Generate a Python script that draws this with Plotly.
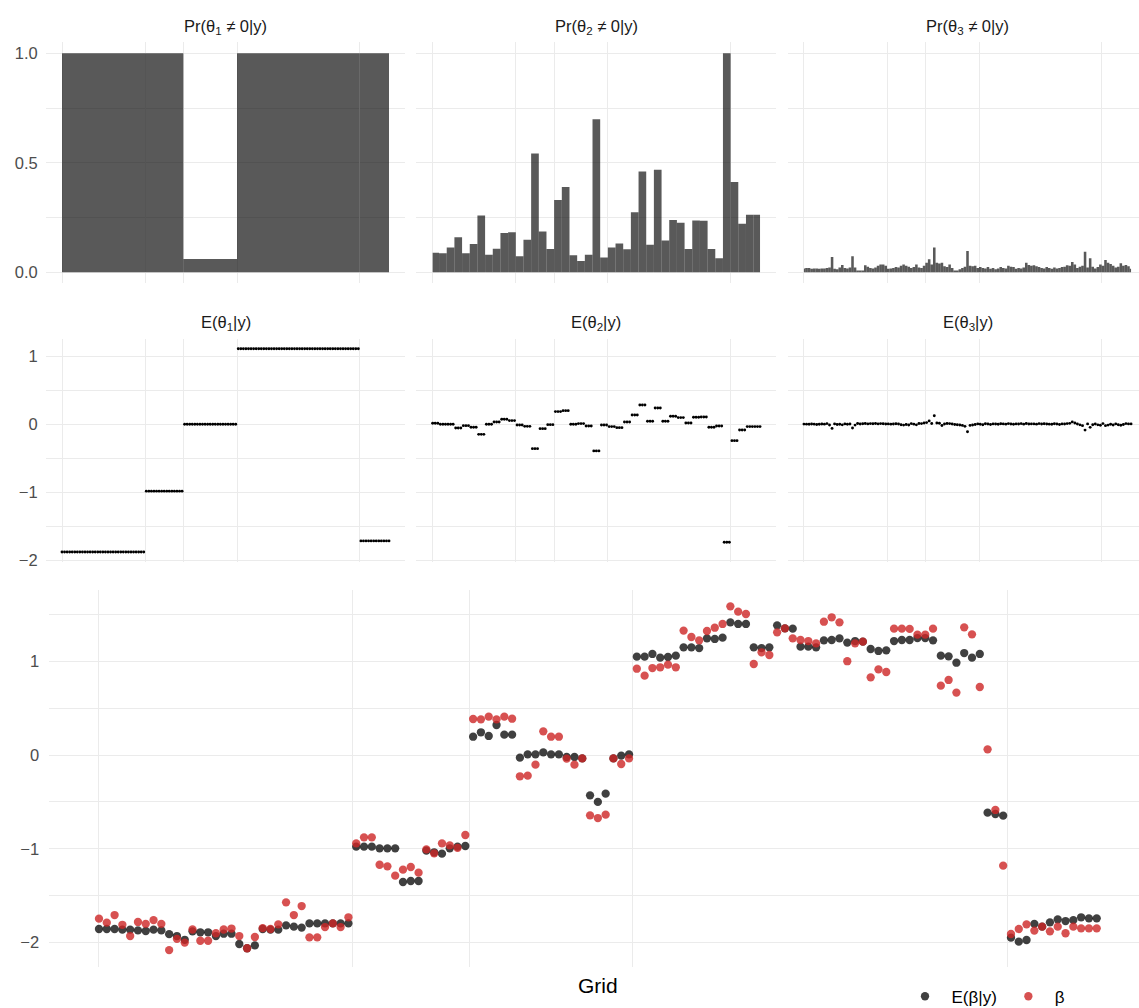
import numpy as np
import plotly.graph_objects as go

W, H = 1139, 1008
FONT = "Liberation Sans, Arial, Helvetica, sans-serif"
GRID = "#EBEBEB"

# ---------------- data ----------------
# level 1 segments (number of grid points in each)
theta1_seg_len = [33, 15, 21, 48, 12]
theta1_prob = [1.0, 1.0, 0.061, 1.0, 1.0]
theta1_mean = [-1.873, -0.98, 0.0, 1.108, -1.71]

# level 2 segments (43 segments of 3 grid points)
theta2_seg_len = [3] * 43
theta2_prob = [0.09, 0.087, 0.114, 0.16, 0.087, 0.13, 0.26, 0.08, 0.108, 0.18, 0.183,
               0.073, 0.149, 0.543, 0.186, 0.107, 0.33, 0.39, 0.078, 0.052, 0.08, 0.699,
               0.068, 0.113, 0.132, 0.105, 0.275, 0.46, 0.126, 0.469, 0.146, 0.239, 0.227,
               0.107, 0.237, 0.236, 0.107, 0.064, 1.0, 0.412, 0.222, 0.263, 0.263]
theta2_mean = [0.015, 0.0, 0.0, -0.054, -0.02, -0.044, -0.147, 0.0, 0.034, 0.073, 0.054,
               -0.01, -0.03, -0.357, -0.064, -0.005, 0.186, 0.2, 0.0, 0.01, -0.024, -0.39,
               -0.01, -0.034, -0.049, 0.034, 0.137, 0.283, 0.044, 0.24, 0.044, 0.117, 0.098,
               0.02, 0.103, 0.107, -0.044, -0.024, -1.73, -0.24, -0.083, -0.034, -0.034]

# level 3 (one per grid point, 129 points)
theta3_prob = [0.018, 0.02, 0.02, 0.016, 0.018, 0.018, 0.016, 0.018, 0.018, 0.02, 0.022,
               0.07, 0.016, 0.014, 0.022, 0.034, 0.02, 0.018, 0.022, 0.073, 0.022, 0.008,
               0.008, 0.008, 0.032, 0.026, 0.02, 0.018, 0.022, 0.03, 0.036, 0.036, 0.03,
               0.016, 0.018, 0.02, 0.024, 0.022, 0.03, 0.036, 0.03, 0.026, 0.02, 0.024,
               0.036, 0.022, 0.02, 0.03, 0.044, 0.06, 0.036, 0.114, 0.044, 0.04, 0.044,
               0.028, 0.024, 0.036, 0.02, 0.008, 0.008, 0.014, 0.02, 0.026, 0.097, 0.03,
               0.028, 0.03, 0.02, 0.024, 0.02, 0.018, 0.024, 0.016, 0.02, 0.014, 0.018,
               0.024, 0.02, 0.018, 0.03, 0.026, 0.024, 0.016, 0.02, 0.018, 0.022, 0.044,
               0.034, 0.03, 0.032, 0.028, 0.024, 0.02, 0.018, 0.024, 0.02, 0.016, 0.022,
               0.018, 0.02, 0.024, 0.026, 0.032, 0.03, 0.047, 0.036, 0.02, 0.026, 0.03,
               0.094, 0.022, 0.064, 0.026, 0.018, 0.024, 0.036, 0.03, 0.056, 0.044, 0.038,
               0.03, 0.022, 0.026, 0.041, 0.03, 0.034, 0.028, 0.016]
theta3_mean = [0.003, 0.002, 0.0, 0.004, 0.002, -0.004, 0.0, 0.005, 0.002, 0.01, -0.01,
               -0.06, 0.006, -0.004, 0.0, -0.008, 0.006, 0.0, 0.004, -0.055, -0.012, 0.012,
               0.004, 0.008, 0.012, 0.006, 0.01, 0.008, 0.012, 0.006, 0.01, 0.008, 0.004,
               0.006, 0.002, 0.004, 0.008, 0.004, -0.006, -0.012, -0.004, -0.01, 0.01, 0.002,
               -0.008, 0.012, 0.01, 0.018, 0.025, 0.05, 0.012, 0.125, 0.018, 0.016, -0.018,
               0.004, 0.012, 0.01, 0.004, -0.004, -0.006, -0.01, -0.016, -0.03, -0.11, -0.016,
               -0.01, -0.002, 0.006, 0.0, -0.006, 0.008, 0.004, -0.004, 0.006, 0.004, 0.0,
               0.008, 0.006, 0.002, 0.01, 0.004, 0.0, 0.006, 0.004, 0.01, 0.002, 0.012,
               0.004, 0.006, 0.006, 0.002, 0.01, 0.004, 0.008, 0.004, 0.002, 0.0, 0.008,
               0.004, -0.004, 0.006, 0.004, 0.01, 0.014, 0.035, 0.02, 0.004, -0.008, -0.02,
               -0.085, 0.006, -0.045, -0.006, 0.004, -0.008, -0.014, 0.01, -0.02, -0.012, 0.0,
               -0.01, 0.006, -0.006, -0.014, -0.004, 0.01, 0.006, 0.006]

# posterior mean of beta (black) and true beta (red), 129 grid points
e_beta = [-1.855, -1.855, -1.855, -1.862, -1.862, -1.870, -1.876, -1.862, -1.870,
          -1.91, -1.93, -1.97, -1.88, -1.89, -1.89, -1.93, -1.905, -1.905,
          -2.015, -2.06, -2.03, -1.855, -1.862, -1.862, -1.816, -1.83, -1.84,
          -1.795, -1.795, -1.795, -1.795, -1.795, -1.795,
          -0.977, -0.977, -0.977, -0.995, -0.995, -0.995, -1.354, -1.343, -1.343,
          -1.02, -1.037, -1.052, -0.995, -0.977, -0.97,
          0.195, 0.242, 0.203, 0.32, 0.217, 0.217, -0.028, 0.007, 0.007,
          0.028, 0.007, 0.007, -0.021, -0.021, -0.036, -0.43, -0.50, -0.412,
          -0.036, -0.007, 0.007,
          1.048, 1.048, 1.077, 1.038, 1.045, 1.059, 1.148, 1.148, 1.14,
          1.244, 1.237, 1.251, 1.414, 1.397, 1.397, 1.148, 1.14, 1.148,
          1.382, 1.35, 1.347, 1.155, 1.155, 1.148, 1.222, 1.226, 1.244,
          1.198, 1.215, 1.208, 1.13, 1.109, 1.116, 1.215, 1.226, 1.226,
          1.247, 1.247, 1.222, 1.059, 1.052, 0.984, 1.087, 1.038, 1.077,
          -0.615, -0.629, -0.647,
          -1.947, -1.99, -1.972, -1.80, -1.83, -1.784, -1.752, -1.77, -1.76,
          -1.73, -1.741, -1.741]
beta = [-1.745, -1.787, -1.706, -1.81, -1.93, -1.78, -1.80, -1.76, -1.80,
        -2.08, -1.96, -2.0, -1.86, -1.98, -1.98, -1.90, -1.86, -1.85,
        -1.93, -2.06, -1.94, -1.845, -1.855, -1.805, -1.571, -1.706, -1.61,
        -1.944, -1.944, -1.834, -1.795, -1.834, -1.73,
        -0.942, -0.878, -0.878, -1.17, -1.187, -1.286, -1.222, -1.194, -1.254,
        -1.006, -1.048, -0.942, -0.963, -0.99, -0.853,
        0.384, 0.38, 0.409, 0.38, 0.409, 0.387, -0.227, -0.22, -0.103,
        0.252, 0.195, 0.195, -0.039, -0.103, -0.036, -0.643, -0.672, -0.636,
        -0.036, -0.096, -0.036,
        0.92, 0.846, 0.927, 0.935, 0.963, 0.935, 1.326, 1.258, 1.222,
        1.322, 1.357, 1.397, 1.585, 1.528, 1.503, 0.97, 1.095, 1.066,
        1.308, 1.35, 1.244, 1.226, 1.215, 1.19, 1.421, 1.468, 1.414,
        1.0, 1.19, 1.208, 0.828, 0.913, 0.885, 1.347, 1.347, 1.344,
        1.283, 1.283, 1.347, 0.739, 0.8, 0.665, 1.361, 1.286, 0.725,
        0.06, -0.586, -1.18,
        -1.908, -1.855, -1.805, -1.872, -1.83, -1.88, -1.83, -1.90, -1.83,
        -1.848, -1.848, -1.848]

top_titles = ["Pr(θ<sub>1</sub> ≠ 0|y)", "Pr(θ<sub>2</sub> ≠ 0|y)", "Pr(θ<sub>3</sub> ≠ 0|y)"]
mid_titles = ["E(θ<sub>1</sub>|y)", "E(θ<sub>2</sub>|y)", "E(θ<sub>3</sub>|y)"]
legend_names = ["E(β|y)", "β"]
x_title = "Grid"

# ---------------- helpers ----------------
n_pts = len(e_beta)
grid = np.arange(n_pts)
x_max = n_pts - 1


def seg_bars(lengths):
    lengths = np.asarray(lengths)
    ends = np.cumsum(lengths) - 1
    starts = ends - lengths + 1
    left = np.clip(starts - 0.5, 0, x_max)
    right = np.clip(ends + 0.5, 0, x_max)
    return (left + right) / 2, right - left


def seg_points(lengths, values):
    return np.repeat(np.asarray(values), lengths)


# vertical grid lines at level-1 changepoints
bnd = np.cumsum(theta1_seg_len)[:-1] - 0.5
x_breaks = [0.0] + list(bnd)

fig = go.Figure()

bar_color = "rgba(0,0,0,0.65)"
# top row bars
c1, w1 = seg_bars(theta1_seg_len)
fig.add_trace(go.Bar(x=c1, y=theta1_prob, width=w1, marker=dict(color=bar_color, line=dict(width=0)),
                     xaxis="x", yaxis="y", showlegend=False, hoverinfo="skip"))
c2, w2 = seg_bars(theta2_seg_len)
fig.add_trace(go.Bar(x=c2, y=theta2_prob, width=w2, marker=dict(color=bar_color, line=dict(width=0)),
                     xaxis="x2", yaxis="y2", showlegend=False, hoverinfo="skip"))
c3, w3 = seg_bars([1] * n_pts)
fig.add_trace(go.Bar(x=c3, y=theta3_prob, width=w3, marker=dict(color=bar_color, line=dict(width=0)),
                     xaxis="x3", yaxis="y3", showlegend=False, hoverinfo="skip"))

# middle row points
pt = dict(color="black", size=2.9)
fig.add_trace(go.Scatter(x=grid, y=seg_points(theta1_seg_len, theta1_mean), mode="markers",
                         marker=pt, xaxis="x4", yaxis="y4", showlegend=False, hoverinfo="skip"))
fig.add_trace(go.Scatter(x=grid, y=seg_points(theta2_seg_len, theta2_mean), mode="markers",
                         marker=pt, xaxis="x5", yaxis="y5", showlegend=False, hoverinfo="skip"))
fig.add_trace(go.Scatter(x=grid, y=theta3_mean, mode="markers",
                         marker=pt, xaxis="x6", yaxis="y6", showlegend=False, hoverinfo="skip"))

# bottom panel
fig.add_trace(go.Scatter(x=grid, y=e_beta, mode="markers", name=legend_names[0],
                         marker=dict(color="rgba(0,0,0,0.75)", size=8.3, line=dict(width=0)),
                         xaxis="x7", yaxis="y7"))
fig.add_trace(go.Scatter(x=grid, y=beta, mode="markers", name=legend_names[1],
                         marker=dict(color="rgba(205,38,38,0.8)", size=8.3, line=dict(width=0)),
                         xaxis="x7", yaxis="y7"))

# ---------------- layout ----------------
def px_dom_x(a, b):
    return [a / W, min(b / W, 1.0)]


def px_dom_y(top, bottom):
    return [1 - bottom / H, 1 - top / H]


tick_font = dict(family=FONT, size=16.5, color="#4D4D4D")

# panel pixel extents (left, right) and x ranges
top_x = [(45.65, 405.35), (416.3, 776.4), (787.6, 1139.0)]
x_lo = -0.05 * x_max
x_hi = x_max * 1.05
top_ranges = [[x_lo, x_hi], [x_lo, x_hi], [x_lo, x_hi - (1147.4 - 1139.0) / 2.555]]
bottom_range = [x_lo, x_hi - (1146.6 - 1139.0) / 7.794]

layout = dict(
    width=W, height=H,
    margin=dict(l=0, r=0, t=0, b=0, autoexpand=False),
    paper_bgcolor="white", plot_bgcolor="white",
    barmode="overlay",
    font=dict(family=FONT, color="black"),
)


def xaxis(dom, rng):
    return dict(domain=dom, range=rng, tickmode="array", tickvals=x_breaks,
                showticklabels=False, ticks="", showgrid=True, gridcolor=GRID, gridwidth=1.4,
                zeroline=False, showline=False, fixedrange=True)


def yaxis(dom, rng, tv, tt, minor, show, anchor):
    return dict(domain=dom, range=rng, tickmode="array", tickvals=tv, ticktext=tt,
                showticklabels=show, ticks="", ticklabelstandoff=7, tickfont=tick_font,
                showgrid=True, gridcolor=GRID, gridwidth=1.4, zeroline=False, showline=False,
                minor=dict(tickmode="array", tickvals=minor, showgrid=True, gridcolor=GRID,
                           gridwidth=0.75, ticks=""),
                anchor=anchor, fixedrange=True)


top_dom_y = px_dom_y(42.4, 283.3)
mid_dom_y = px_dom_y(338.6, 562.2)
bot_dom_y = px_dom_y(590.0, 967.0)

for k in range(3):
    xi = "" if k == 0 else str(k + 1)
    layout["xaxis" + xi] = xaxis(px_dom_x(*top_x[k]), top_ranges[k])
    layout["xaxis" + xi]["anchor"] = "y" + xi
    layout["yaxis" + xi] = yaxis(top_dom_y, [-0.05, 1.05], [0, 0.5, 1], ["0.0", "0.5", "1.0"],
                                 [0.25, 0.75], k == 0, "x" + xi)
    xm = str(k + 4)
    layout["xaxis" + xm] = xaxis(px_dom_x(*top_x[k]), top_ranges[k])
    layout["xaxis" + xm]["anchor"] = "y" + xm
    layout["yaxis" + xm] = yaxis(mid_dom_y, [-2.022, 1.2566], [-2, -1, 0, 1], ["−2", "−1", "0", "1"],
                                 [-1.5, -0.5, 0.5], k == 0, "x" + xm)

layout["xaxis7"] = xaxis(px_dom_x(49.1, 1139.0), bottom_range)
layout["xaxis7"]["anchor"] = "y7"
layout["yaxis7"] = yaxis(bot_dom_y, [-2.26, 1.759], [-2, -1, 0, 1], ["−2", "−1", "0", "1"],
                         [-1.5, -0.5, 0.5, 1.5], True, "x7")
layout["yaxis7"]["ticklabelstandoff"] = 9

# strip titles
strip_font = dict(family=FONT, size=16.5, color="#1A1A1A")
centers = [225.5, 596.4, 967.5]
ann = []
for k in range(3):
    ann.append(dict(x=centers[k] / W, y=1 - 26.5 / H, xref="paper", yref="paper", text=top_titles[k],
                    showarrow=False, font=strip_font, xanchor="center", yanchor="middle"))
    ann.append(dict(x=centers[k] / W, y=1 - 323 / H, xref="paper", yref="paper", text=mid_titles[k],
                    showarrow=False, font=strip_font, xanchor="center", yanchor="middle"))
ann.append(dict(x=598 / W, y=1 - 985.5 / H, xref="paper", yref="paper", text=x_title,
                showarrow=False, font=dict(family=FONT, size=21, color="black"),
                xanchor="center", yanchor="middle"))
layout["annotations"] = ann

layout["legend"] = dict(orientation="h", x=(926 - 27.5) / W, y=1 - 996.7 / H, xanchor="left",
                        yanchor="middle", font=dict(family=FONT, size=17, color="black"),
                        itemwidth=43, bgcolor="rgba(0,0,0,0)", borderwidth=0,
                        traceorder="normal")
layout["showlegend"] = True

fig.update_layout(**layout)
fig.write_html("out.html", config={"displayModeBar": False},
               post_script="document.body.style.margin='0';document.body.style.overflow='hidden';")
